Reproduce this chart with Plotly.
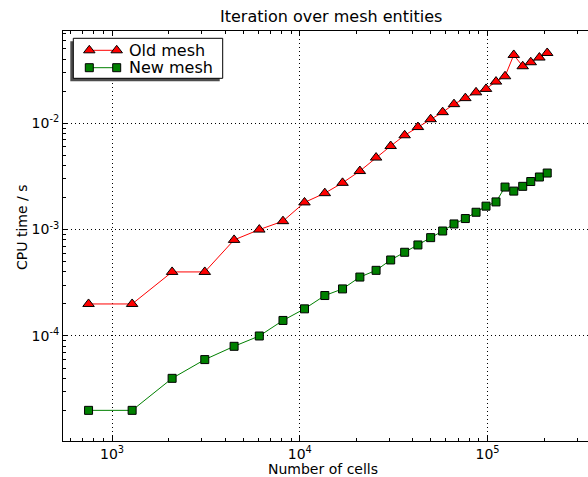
import plotly.graph_objects as go

# ---- data ----
cells = [750, 1280, 2090, 3120, 4470, 6090, 8140, 10600, 13600, 16900,
         20900, 25500, 30500, 36200, 42600, 49800, 57700, 66300, 76200, 86900,
         98200, 111000, 124000, 138000, 154000, 170000, 189000, 208000]
old_mesh = [2.0e-4, 2.0e-4, 4.0e-4, 4.0e-4, 8.0e-4, 1.0e-3, 1.2e-3, 1.8e-3, 2.2e-3, 2.75e-3,
            3.55e-3, 4.75e-3, 6.1e-3, 7.7e-3, 9.2e-3, 0.0109, 0.0127, 0.0151, 0.0172, 0.0195,
            0.021, 0.0246, 0.0276, 0.0438, 0.0343, 0.0374, 0.0414, 0.0457]
new_mesh = [2.0e-5, 2.0e-5, 4.0e-5, 6.0e-5, 8.0e-5, 1.0e-4, 1.4e-4, 1.8e-4, 2.4e-4, 2.77e-4,
            3.58e-4, 4.14e-4, 5.18e-4, 6.12e-4, 7.17e-4, 8.4e-4, 9.7e-4, 1.13e-3, 1.27e-3, 1.455e-3,
            1.66e-3, 1.82e-3, 2.51e-3, 2.3e-3, 2.55e-3, 2.83e-3, 3.12e-3, 3.4e-3]

series_names = ["Old mesh", "New mesh"]
x_tickvals = [1e3, 1e4, 1e5]
x_ticktext = ["10<sup>3</sup>", "10<sup>4</sup>", "10<sup>5</sup>"]
y_tickvals = [1e-4, 1e-3, 1e-2]
y_ticktext = ["10<sup>-4</sup>", "10<sup>-3</sup>", "10<sup>-2</sup>"]
x_minor = [600, 700, 800, 900] + [m * 1e3 for m in range(2, 10)] + \
          [m * 1e4 for m in range(2, 10)] + [2e5, 3e5]
y_minor = [m * 1e-5 for m in range(2, 10)] + [m * 1e-4 for m in range(2, 10)] + \
          [m * 1e-3 for m in range(2, 10)] + [m * 1e-2 for m in range(2, 8)]

FONT = "DejaVu Sans"
RED = "#ff0000"
GREEN = "#008000"

# plot-area pixel geometry (for converting layout positions to paper coords)
PL, PR, PT, PB = 63, 588, 31, 441


def px_x(p):
    return (p - PL) / (PR - PL)


def px_y(p):
    return (PB - p) / (PB - PT)


fig = go.Figure()

fig.add_trace(go.Scatter(
    x=cells, y=old_mesh, mode="lines+markers", name=series_names[0],
    line=dict(color=RED, width=1),
    marker=dict(symbol="triangle-up", size=10, color=RED, line=dict(color="black", width=1)),
    showlegend=False, cliponaxis=False))
fig.add_trace(go.Scatter(
    x=cells, y=new_mesh, mode="lines+markers", name=series_names[1],
    line=dict(color=GREEN, width=1),
    marker=dict(symbol="square", size=8, color=GREEN, line=dict(color="black", width=1)),
    showlegend=False, cliponaxis=False))

# ---- custom legend drawn on a pixel-coordinate overlay axis ----
L_LEFT, L_RIGHT, L_TOP, L_BOT = 73.3, 222.7, 38.3, 78.3
SH = 3
fig.add_trace(go.Scatter(
    x=[L_LEFT - SH, L_RIGHT - SH, L_RIGHT - SH, L_LEFT - SH, L_LEFT - SH],
    y=[L_TOP + SH, L_TOP + SH, L_BOT + SH, L_BOT + SH, L_TOP + SH],
    fill="toself", fillcolor="#4d4d4d", mode="lines", line=dict(width=0, color="#4d4d4d"),
    xaxis="x2", yaxis="y2", showlegend=False, hoverinfo="skip"))
fig.add_trace(go.Scatter(
    x=[L_LEFT, L_RIGHT, L_RIGHT, L_LEFT, L_LEFT],
    y=[L_TOP, L_TOP, L_BOT, L_BOT, L_TOP],
    fill="toself", fillcolor="white", mode="lines", line=dict(width=1, color="black"),
    xaxis="x2", yaxis="y2", showlegend=False, hoverinfo="skip"))
rows = [(50.3, RED, "triangle-up", 10), (67.7, GREEN, "square", 8)]
for (ry, col, sym, sz), nm in zip(rows, series_names):
    fig.add_trace(go.Scatter(
        x=[89.3, 116.7], y=[ry, ry], mode="lines+markers",
        line=dict(color=col, width=1),
        marker=dict(symbol=sym, size=sz, color=col, line=dict(color="black", width=1)),
        xaxis="x2", yaxis="y2", showlegend=False, hoverinfo="skip"))
    fig.add_annotation(x=126.5, y=ry, xref="x2", yref="y2", text=nm, showarrow=False,
                       xanchor="left", yanchor="middle", font=dict(family=FONT, size=16, color="black"))

# title and axis titles (paper coordinates)
fig.add_annotation(x=px_x(330.5), y=px_y(17), xref="paper", yref="paper",
                   text="Iteration over mesh entities",
                   showarrow=False, xanchor="center", yanchor="middle",
                   font=dict(family=FONT, size=16, color="black"))
fig.add_annotation(x=px_x(323), y=px_y(469), xref="paper", yref="paper", text="Number of cells",
                   showarrow=False, xanchor="center", yanchor="middle",
                   font=dict(family=FONT, size=14, color="black"))
fig.add_annotation(x=px_x(22), y=px_y(228), xref="paper", yref="paper", text="CPU time / s",
                   textangle=-90, showarrow=False, xanchor="center", yanchor="middle",
                   font=dict(family=FONT, size=14, color="black"))

grid = dict(showgrid=True, gridcolor="black", gridwidth=1, griddash="1px,3px")

fig.update_layout(
    width=588, height=477, autosize=False,
    margin=dict(l=PL, r=588 - PR, t=PT, b=477 - PB),
    paper_bgcolor="white", plot_bgcolor="white",
    font=dict(family=FONT, size=14, color="black"),
    xaxis=dict(type="log", range=[2.739, 5.5353], tickvals=x_tickvals, ticktext=x_ticktext,
               ticks="inside", ticklen=5, tickcolor="black", showline=True, linecolor="black",
               linewidth=1, mirror="ticks", zeroline=False,
               minor=dict(tickvals=x_minor, ticks="inside", ticklen=3, tickcolor="black", showgrid=False),
               tickfont=dict(family=FONT, size=14), **grid),
    yaxis=dict(type="log", range=[-4.987, -1.1335], tickvals=y_tickvals, ticktext=y_ticktext,
               ticks="inside", ticklen=5, tickcolor="black", showline=True, linecolor="black",
               linewidth=1, mirror=False, zeroline=False,
               minor=dict(tickvals=y_minor, ticks="inside", ticklen=3, tickcolor="black", showgrid=False),
               tickfont=dict(family=FONT, size=14), **grid),
    xaxis2=dict(overlaying="x", range=[PL, PR], visible=False, fixedrange=True),
    yaxis2=dict(overlaying="y", range=[PB, PT], visible=False, fixedrange=True),
    showlegend=False,
)

fig.write_html("out.html")
